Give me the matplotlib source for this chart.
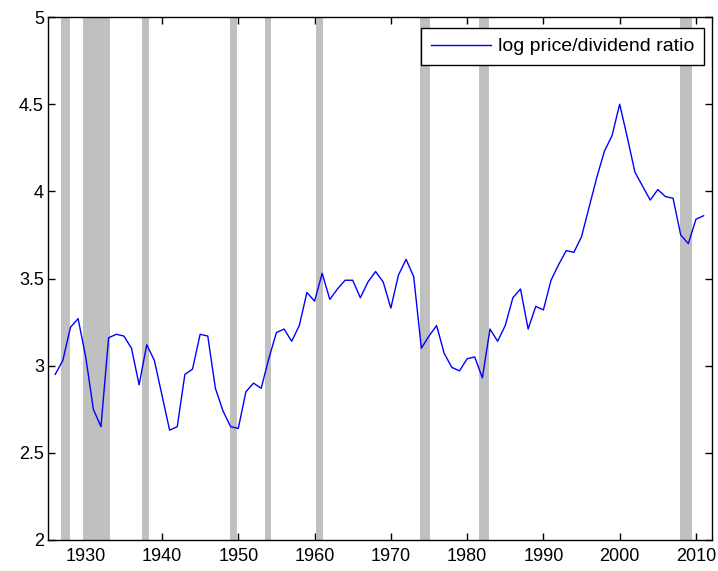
import numpy as np
import matplotlib
matplotlib.use("Agg")
import matplotlib.pyplot as plt
from matplotlib.ticker import FormatStrFormatter

# Annual log price/dividend ratio, 1926-2011
years = np.arange(1926, 2012)
log_pd = [
    2.95, 3.03, 3.22, 3.27, 3.05, 2.75, 2.65, 3.16, 3.18, 3.17,
    3.10, 2.89, 3.12, 3.03, 2.83, 2.63, 2.65, 2.95, 2.98, 3.18,
    3.17, 2.87, 2.74, 2.65, 2.64, 2.85, 2.90, 2.87, 3.04, 3.19,
    3.21, 3.14, 3.23, 3.42, 3.37, 3.53, 3.38, 3.44, 3.49, 3.49,
    3.39, 3.48, 3.54, 3.48, 3.33, 3.52, 3.61, 3.51, 3.10, 3.17,
    3.23, 3.07, 2.99, 2.97, 3.04, 3.05, 2.93, 3.21, 3.14, 3.23,
    3.39, 3.44, 3.21, 3.34, 3.32, 3.49, 3.58, 3.66, 3.65, 3.74,
    3.91, 4.08, 4.23, 4.32, 4.50, 4.31, 4.11, 4.03, 3.95, 4.01,
    3.97, 3.96, 3.75, 3.70, 3.84, 3.86,
]

# Recession periods (start, end)
rec_start = [1926.75, 1929.6, 1937.4, 1948.85, 1953.5, 1960.25, 1973.85, 1981.5, 2007.95]
rec_end = [1927.9, 1933.2, 1938.35, 1949.8, 1954.35, 1961.15, 1975.2, 1982.85, 2009.5]

plt.rcParams['font.family'] = ['Liberation Sans', 'DejaVu Sans']

fig = plt.figure(figsize=(7.18, 5.71), dpi=100)
ax = fig.add_axes([0.0669, 0.0543, 0.9247, 0.9159])

for s, e in zip(rec_start, rec_end):
    ax.axvspan(s, e, color='#c0c0c0', lw=0, zorder=2.6)

ax.plot(years, log_pd, color='#0000ff', lw=1.0, zorder=4,
        label='log price/dividend ratio')

ax.set_xlim(1925.06, 2012.1)
ax.set_ylim(2, 5)
ax.set_xticks(np.arange(1930, 2011, 10))
ax.set_yticks(np.arange(2, 5.01, 0.5))
ax.yaxis.set_major_formatter(FormatStrFormatter('%g'))

ax.tick_params(direction='in', length=5, width=1, labelsize=13,
               top=True, right=True)
ax.tick_params(axis='x', pad=6)
ax.tick_params(axis='y', pad=3)
for sp in ax.spines.values():
    sp.set_linewidth(1.0)
    sp.set_zorder(3)

leg = ax.legend(loc='upper right', bbox_to_anchor=(0.988, 0.979),
                fontsize=14, frameon=True, fancybox=False,
                handlelength=3.1, handletextpad=0.35, borderpad=0.5,
                borderaxespad=0)
leg.get_frame().set_edgecolor('black')
leg.get_frame().set_linewidth(1.0)
leg.get_frame().set_alpha(1)

fig.savefig('out.png', dpi=100)
